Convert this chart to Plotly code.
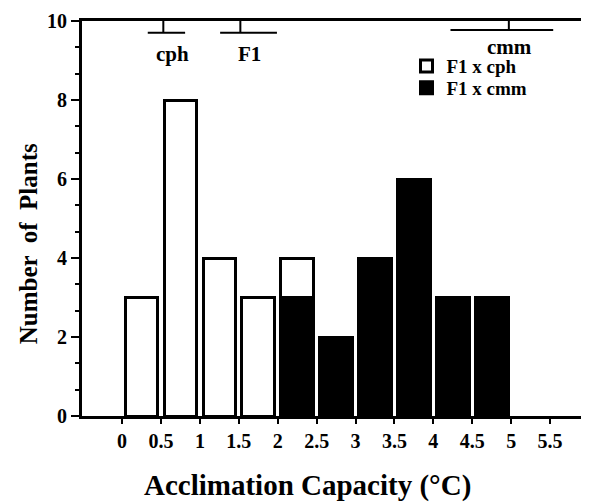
import plotly.graph_objects as go

# Bins of acclimation capacity (°C): lower edges, width 0.5
bin_lo = [0, 0.5, 1.0, 1.5, 2.0, 2.5, 3.0, 3.5, 4.0, 4.5, 5.0]
cph_counts = [3, 8, 4, 3, 1, 0, 0, 0, 0, 0, 0]   # F1 x cph (open bars)
cmm_counts = [0, 0, 0, 0, 3, 2, 4, 6, 3, 3, 0]   # F1 x cmm (filled bars)

x_tick_vals = [0, 0.5, 1, 1.5, 2, 2.5, 3, 3.5, 4, 4.5, 5, 5.5]
x_tick_text = ["0", "0.5", "1", "1.5", "2", "2.5", "3", "3.5", "4", "4.5", "5", "5.5"]
y_tick_vals = [0, 2, 4, 6, 8, 10]

# Parental / F1 means with ranges shown along the top
grp_names = ["cph", "F1", "cmm"]
grp_mean = [0.53, 1.52, 4.97]
grp_low = [0.33, 1.26, 4.22]
grp_high = [0.81, 1.99, 5.54]
grp_level = [9.70, 9.70, 9.77]

centers = [b + 0.25 for b in bin_lo]
FONT = "Liberation Serif"

fig = go.Figure()
fig.add_trace(go.Bar(
    x=centers, y=[v if v else None for v in cmm_counts], name="F1 x cmm",
    width=0.42, marker=dict(color="black", line=dict(color="black", width=3)),
    legend="legend2",
))
fig.add_trace(go.Bar(
    x=centers, y=[v if v else None for v in cph_counts], name="F1 x cph",
    width=0.42, marker=dict(color="white", line=dict(color="black", width=3)),
    legend="legend",
))

# range markers at top
lx, ly = [], []
for lo, hi, m, lv in zip(grp_low, grp_high, grp_mean, grp_level):
    lx += [lo, hi, None, m, m, None]
    ly += [lv, lv, None, lv, 10, None]
fig.add_trace(go.Scatter(x=lx, y=ly, mode="lines", line=dict(color="black", width=2),
                         showlegend=False, hoverinfo="skip", cliponaxis=False))
label_shift = [(9, -21), (9, -21), (1, -17)]
for i, (n, m) in enumerate(zip(grp_names, grp_mean)):
    fig.add_annotation(x=m, y=grp_level[i], xshift=label_shift[i][0], yshift=label_shift[i][1],
                       text=n, showarrow=False, yanchor="middle",
                       font=dict(family=FONT, size=21, color="black", weight="bold"))

minor_vals = [k * 2 / 3 for k in range(1, 15) if k % 3 != 0]
tfont = dict(family=FONT, size=20, color="black", weight="bold")
lfont = dict(family=FONT, size=19, color="black", weight="bold")

fig.update_layout(
    width=581, height=496,
    margin=dict(l=74, r=0, t=13, b=88),
    paper_bgcolor="white", plot_bgcolor="white",
    barmode="stack",
    showlegend=True,
    legend=dict(x=0.64, y=0.934, xanchor="left", yanchor="top",
                font=lfont, bgcolor="rgba(0,0,0,0)"),
    legend2=dict(x=0.64, y=0.879, xanchor="left", yanchor="top",
                 font=lfont, bgcolor="rgba(0,0,0,0)"),
    font=dict(family=FONT, color="black"),
    xaxis=dict(range=[-0.515, 6.0], tickvals=x_tick_vals, ticktext=x_tick_text,
               showline=True, linecolor="black", linewidth=3, mirror=True,
               ticks="outside", ticklen=5, tickwidth=2, tickcolor="black",
               showgrid=False, zeroline=False, tickfont=tfont),
    yaxis=dict(range=[0, 10], tickvals=y_tick_vals,
               showline=True, linecolor="black", linewidth=3,
               ticks="outside", ticklen=8, tickwidth=2, tickcolor="black",
               minor=dict(tickvals=minor_vals, ticks="outside", ticklen=4, tickwidth=2, tickcolor="black"),
               showgrid=False, zeroline=False, tickfont=tfont),
)
fig.add_annotation(xref="paper", yref="paper", x=0.444, y=-0.175, yanchor="middle",
                   text="Acclimation Capacity (°C)", showarrow=False,
                   font=dict(family=FONT, size=29, color="black", weight="bold"))
fig.add_annotation(xref="paper", yref="paper", x=-0.1065, y=0.435, textangle=-90,
                   xanchor="center", yanchor="middle", text="Number  of  Plants", showarrow=False,
                   font=dict(family=FONT, size=25, color="black", weight="bold"))

fig.write_html("out.html")
